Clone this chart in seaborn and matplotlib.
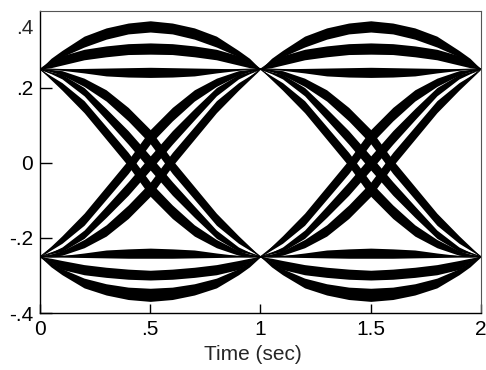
import numpy as np
import pandas as pd
import matplotlib
matplotlib.use("Agg")
import matplotlib.pyplot as plt
import seaborn as sns

# -----------------------------------------
#  Data: one bit period of the eye
#  each band = (upper edge, lower edge) at the sample times
# -----------------------------------------

TIME = [0.0, 0.05, 0.1, 0.2, 0.3, 0.4, 0.5, 0.6, 0.7, 0.8, 0.9, 0.95, 1.0]
PERIOD_STARTS = [0, 1]

# +1 -> +1 traces
UP_OUTER_HI = [.25, .279, .300, .338, .360, .373, .379, .373, .360, .338, .300, .279, .25]
UP_OUTER_LO = [.25, .262, .283, .309, .330, .344, .349, .344, .330, .309, .283, .262, .25]
UP_MID_HI   = [.25, .264, .286, .303, .312, .318, .320, .318, .312, .303, .286, .264, .25]
UP_MID_LO   = [.25, .254, .261, .275, .283, .289, .290, .289, .283, .275, .261, .254, .25]
UP_FLAT_HI  = [.25, .251, .251, .252, .253, .254, .255, .254, .253, .252, .251, .251, .25]
UP_FLAT_LO  = [.25, .249, .247, .240, .232, .229, .228, .229, .232, .240, .247, .249, .25]

# -1 -> -1 traces
LO_FLAT_HI  = [-.25, -.249, -.247, -.240, -.232, -.229, -.227, -.229, -.232, -.240, -.247, -.249, -.25]
LO_FLAT_LO  = [-.25, -.251, -.251, -.252, -.253, -.254, -.254, -.254, -.253, -.252, -.251, -.251, -.25]
LO_MID_HI   = [-.25, -.254, -.260, -.271, -.278, -.283, -.286, -.283, -.278, -.271, -.260, -.254, -.25]
LO_MID_LO   = [-.25, -.264, -.284, -.298, -.305, -.310, -.312, -.310, -.305, -.298, -.284, -.264, -.25]
LO_OUTER_HI = [-.25, -.262, -.282, -.307, -.322, -.331, -.334, -.331, -.322, -.307, -.282, -.262, -.25]
LO_OUTER_LO = [-.25, -.277, -.298, -.333, -.352, -.364, -.369, -.364, -.352, -.333, -.298, -.277, -.25]

# +1 -> -1 traces (early / middle / late crossing)
FALL_E_HI = [.25, .232, .214, .166, .097, .028, -.051, -.112, -.165, -.204, -.234, -.243, -.25]
FALL_E_LO = [.25, .222, .194, .134, .063, -.008, -.089, -.148, -.195, -.226, -.246, -.249, -.25]
FALL_M_HI = [.25, .242, .236, .201, .145, .086, .019, -.050, -.115, -.179, -.224, -.238, -.25]
FALL_M_LO = [.25, .238, .224, .179, .115, .050, -.019, -.086, -.145, -.201, -.236, -.242, -.25]
FALL_L_HI = [.25, .249, .246, .226, .195, .148, .089, .008, -.063, -.134, -.194, -.222, -.25]
FALL_L_LO = [.25, .243, .234, .204, .165, .112, .051, -.028, -.097, -.166, -.214, -.232, -.25]

# -1 -> +1 traces
RISE_E_HI = [-.25, -.222, -.194, -.134, -.063, .008, .089, .148, .195, .226, .246, .249, .25]
RISE_E_LO = [-.25, -.232, -.214, -.166, -.097, -.028, .051, .112, .165, .204, .234, .243, .25]
RISE_M_HI = [-.25, -.238, -.224, -.179, -.115, -.050, .019, .086, .145, .201, .236, .242, .25]
RISE_M_LO = [-.25, -.242, -.236, -.201, -.145, -.086, -.019, .050, .115, .179, .224, .238, .25]
RISE_L_HI = [-.25, -.243, -.234, -.204, -.165, -.112, -.051, .028, .097, .166, .214, .232, .25]
RISE_L_LO = [-.25, -.249, -.246, -.226, -.195, -.148, -.089, -.008, .063, .134, .194, .222, .25]

BANDS = [
    (UP_OUTER_HI, UP_OUTER_LO), (UP_MID_HI, UP_MID_LO), (UP_FLAT_HI, UP_FLAT_LO),
    (LO_FLAT_HI, LO_FLAT_LO), (LO_MID_HI, LO_MID_LO), (LO_OUTER_HI, LO_OUTER_LO),
    (FALL_E_HI, FALL_E_LO), (FALL_M_HI, FALL_M_LO), (FALL_L_HI, FALL_L_LO),
    (RISE_E_HI, RISE_E_LO), (RISE_M_HI, RISE_M_LO), (RISE_L_HI, RISE_L_LO),
]

X_TICKS = [0, 0.5, 1, 1.5, 2]
X_LABELS = ["0", ".5", "1", "1.5", "2"]
Y_TICKS = [-0.4, -0.2, 0, 0.2]
Y_LABELS = ["-.4", "-.2", "0", ".2"]
TOP_LABEL = ".4"

# -----------------------------------------
#  Style
# -----------------------------------------

sns.set_theme(style="white")
plt.rcParams.update({
    "font.family": ["Liberation Sans", "DejaVu Sans"],
    "font.size": 15,
    "axes.edgecolor": "black",
    "axes.linewidth": 1.0,
})

fig = plt.figure(figsize=(4.86, 3.70), dpi=100)
ax = fig.add_axes([0.0823, 0.154, 0.9074, 0.8162])

# -----------------------------------------
#  Draw bands: min/max of edges -> filled band
# -----------------------------------------

t = np.array(TIME)
for start in PERIOD_STARTS:
    for hi, lo in BANDS:
        df = pd.DataFrame({
            "time": np.concatenate([t + start, t + start]),
            "value": np.concatenate([hi, lo]),
        })
        sns.lineplot(data=df, x="time", y="value", ax=ax,
                     errorbar=("pi", 100), color="black", linewidth=0.8,
                     err_kws={"alpha": 1, "linewidth": 0})

ax.set_xlim(0, 2)
ax.set_ylim(-0.4, 0.405)
ax.set_xticks(X_TICKS)
ax.set_xticklabels(X_LABELS)
ax.set_yticks(Y_TICKS)
ax.set_yticklabels(Y_LABELS)
ax.tick_params(axis="y", direction="in", length=8.6, width=1, pad=5,
               left=True, labelsize=15, colors="black")
ax.tick_params(axis="x", direction="in", length=6.5, width=1, pad=5,
               bottom=True, labelsize=15, colors="black")
ax.annotate(TOP_LABEL, xy=(0, 0.4), xycoords=("axes fraction", "data"),
            xytext=(-5, -11), textcoords="offset points",
            ha="right", va="center", fontsize=15)
ax.set_xlabel("Time (sec)", fontsize=15, labelpad=6)
ax.xaxis.set_label_coords(0.483, -0.105)
ax.set_ylabel("")
for side in ("top", "right"):
    ax.spines[side].set_color("#555555")
    ax.spines[side].set_linewidth(0.8)

fig.savefig("out.png", dpi=100)
